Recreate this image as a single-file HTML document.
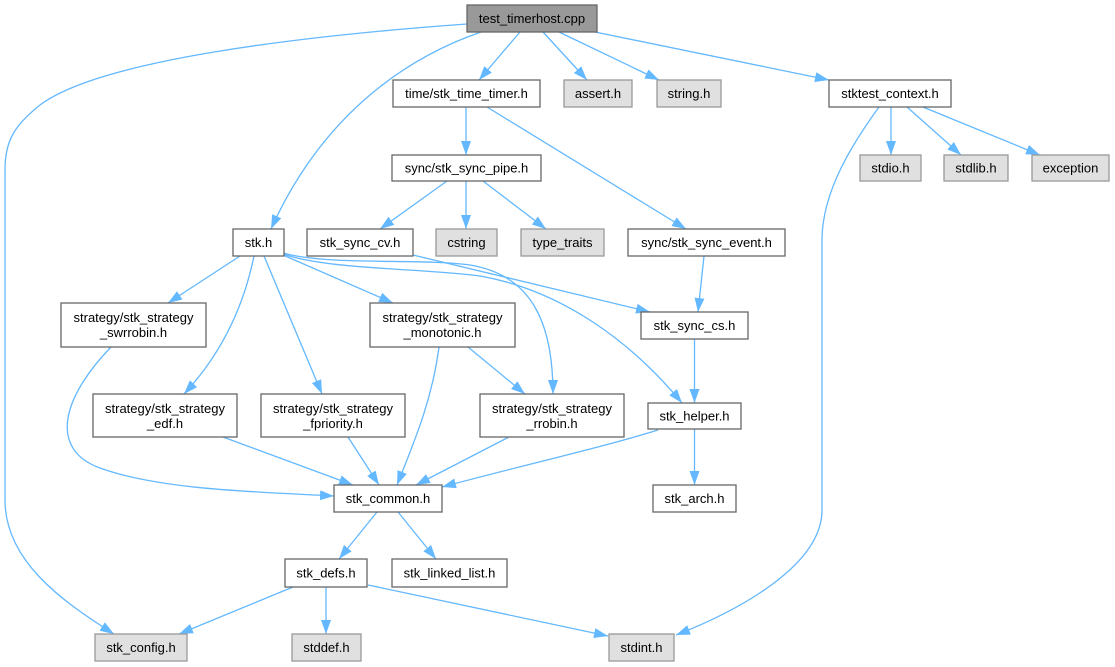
<!DOCTYPE html>
<html><head><meta charset="utf-8"><style>
html,body{margin:0;padding:0;background:#fff;}
svg{display:block;}
text{font-family:"Liberation Sans",Arial,sans-serif;font-size:13px;fill:#000;text-anchor:middle;}
.e{fill:none;stroke:#63b8ff;stroke-width:1.3;}
.w{fill:#fff;stroke:#666;stroke-width:1.3;}
.g{fill:#e0e0e0;stroke:#999;stroke-width:1.3;}
.r{fill:#999;stroke:#666;stroke-width:1.3;}
</style></head><body>
<svg width="1115" height="667" viewBox="0 0 1115 667" xmlns="http://www.w3.org/2000/svg">
<defs>
<marker id="a" markerWidth="14" markerHeight="10" refX="14" refY="5" orient="auto" markerUnits="userSpaceOnUse">
<path d="M0,0 L14,5 L0,10 z" fill="#63b8ff"/>
</marker>
</defs>
<g marker-end="url(#a)">
<!-- root edges -->
<path class="e" marker-end="url(#a)" d="M467,24 C300,36 100,60 40,105 C15,125 5,140 5,170 L5,500 C5,560 60,600 114,634"/>
<path class="e" marker-end="url(#a)" d="M481,32 C400,60 320,120 271,229"/>
<path class="e" marker-end="url(#a)" d="M520,32 L479,80"/>
<path class="e" marker-end="url(#a)" d="M543,32 L587,80"/>
<path class="e" marker-end="url(#a)" d="M559,32 L659,80"/>
<path class="e" marker-end="url(#a)" d="M595,32 L829,80"/>
<!-- time_timer -->
<path class="e" marker-end="url(#a)" d="M466,107 L466,155"/>
<path class="e" marker-end="url(#a)" d="M487,107 L686,229"/>
<!-- sync_pipe -->
<path class="e" marker-end="url(#a)" d="M447,181 L380,229"/>
<path class="e" marker-end="url(#a)" d="M466,181 L466,229"/>
<path class="e" marker-end="url(#a)" d="M483,181 L546,229"/>
<!-- stktest_context -->
<path class="e" marker-end="url(#a)" d="M891,107 L891,155"/>
<path class="e" marker-end="url(#a)" d="M907,107 L961,155"/>
<path class="e" marker-end="url(#a)" d="M923,107 L1040,155"/>
<path class="e" marker-end="url(#a)" d="M879,107 C855,140 822,190 822,240 L822,510 C822,565 740,610 676,635"/>
<!-- sync_event, sync_cv -->
<path class="e" marker-end="url(#a)" d="M704,256 L698,312"/>
<path class="e" marker-end="url(#a)" d="M413,255 L650,312"/>
<!-- stk.h -->
<path class="e" marker-end="url(#a)" d="M240,256 L168,303"/>
<path class="e" marker-end="url(#a)" d="M254,256 C245,300 225,350 184,394"/>
<path class="e" marker-end="url(#a)" d="M264,256 L322,394"/>
<path class="e" marker-end="url(#a)" d="M283,255 L393,303"/>
<path class="e" marker-end="url(#a)" d="M283,253 C330,266 420,258 470,265 C530,275 553,320 553,394"/>
<path class="e" marker-end="url(#a)" d="M283,254 C330,270 420,268 480,276 C560,290 630,340 682,403"/>
<!-- strategies -->
<path class="e" marker-end="url(#a)" d="M439,347 C432,400 415,440 397,485"/>
<path class="e" marker-end="url(#a)" d="M468,347 L525,394"/>
<path class="e" marker-end="url(#a)" d="M111,347 C60,400 50,450 100,468 C160,490 260,492 334,496"/>
<path class="e" marker-end="url(#a)" d="M223,437 L353,485"/>
<path class="e" marker-end="url(#a)" d="M348,437 L379,485"/>
<path class="e" marker-end="url(#a)" d="M509,437 L416,485"/>
<!-- helper / cs -->
<path class="e" marker-end="url(#a)" d="M694.5,339 L694.5,403"/>
<path class="e" marker-end="url(#a)" d="M694.5,429 L694.5,485"/>
<path class="e" marker-end="url(#a)" d="M658,430 C600,448 520,466 442,487"/>
<!-- common / defs -->
<path class="e" marker-end="url(#a)" d="M377,512 L339,559"/>
<path class="e" marker-end="url(#a)" d="M398,512 L436,559"/>
<path class="e" marker-end="url(#a)" d="M293,587 L179,634"/>
<path class="e" marker-end="url(#a)" d="M326,587 L326,634"/>
<path class="e" marker-end="url(#a)" d="M368,585 L608,636"/>
</g>

<!-- nodes -->
<rect class="r" x="467" y="5" width="130" height="27"/><text x="532" y="23">test_timerhost.cpp</text>
<rect class="w" x="393" y="80" width="147" height="27"/><text x="466.5" y="98">time/stk_time_timer.h</text>
<rect class="g" x="564" y="80" width="68" height="27"/><text x="598" y="98">assert.h</text>
<rect class="g" x="657" y="80" width="64" height="27"/><text x="689" y="98">string.h</text>
<rect class="w" x="829" y="80" width="122" height="27"/><text x="890" y="98">stktest_context.h</text>
<rect class="w" x="392" y="155" width="149" height="26"/><text x="466.5" y="172.5">sync/stk_sync_pipe.h</text>
<rect class="g" x="860" y="155" width="61" height="26"/><text x="890.5" y="172.5">stdio.h</text>
<rect class="g" x="944" y="155" width="64" height="26"/><text x="976" y="172.5">stdlib.h</text>
<rect class="g" x="1032" y="155" width="77" height="26"/><text x="1070.5" y="172.5">exception</text>
<rect class="w" x="233" y="229" width="51" height="27"/><text x="258.5" y="247">stk.h</text>
<rect class="w" x="307" y="229" width="106" height="27"/><text x="360" y="247">stk_sync_cv.h</text>
<rect class="g" x="436" y="229" width="61" height="27"/><text x="466.5" y="247">cstring</text>
<rect class="g" x="521" y="229" width="83" height="27"/><text x="562.5" y="247">type_traits</text>
<rect class="w" x="628" y="229" width="157" height="27"/><text x="706.5" y="247">sync/stk_sync_event.h</text>
<rect class="w" x="61" y="303" width="145" height="44"/><text x="133.5" y="322">strategy/stk_strategy</text><text x="133.5" y="337">_swrrobin.h</text>
<rect class="w" x="370" y="303" width="145" height="44"/><text x="442.5" y="322">strategy/stk_strategy</text><text x="442.5" y="337">_monotonic.h</text>
<rect class="w" x="641" y="312" width="107" height="27"/><text x="694.5" y="330">stk_sync_cs.h</text>
<rect class="w" x="93" y="394" width="144" height="43"/><text x="165" y="413">strategy/stk_strategy</text><text x="165" y="428">_edf.h</text>
<rect class="w" x="261" y="394" width="144" height="43"/><text x="333" y="413">strategy/stk_strategy</text><text x="333" y="428">_fpriority.h</text>
<rect class="w" x="480" y="394" width="144" height="43"/><text x="552" y="413">strategy/stk_strategy</text><text x="552" y="428">_rrobin.h</text>
<rect class="w" x="648" y="403" width="93" height="26"/><text x="694.5" y="420.5">stk_helper.h</text>
<rect class="w" x="334" y="485" width="108" height="27"/><text x="388" y="503">stk_common.h</text>
<rect class="w" x="653" y="485" width="83" height="27"/><text x="694.5" y="503">stk_arch.h</text>
<rect class="w" x="285" y="559" width="82" height="28"/><text x="326" y="577.5">stk_defs.h</text>
<rect class="w" x="392" y="559" width="115" height="28"/><text x="449.5" y="577.5">stk_linked_list.h</text>
<rect class="g" x="95" y="634" width="92" height="27"/><text x="141" y="652">stk_config.h</text>
<rect class="g" x="292" y="634" width="69" height="27"/><text x="326.5" y="652">stddef.h</text>
<rect class="g" x="609" y="634" width="65" height="27"/><text x="641.5" y="652">stdint.h</text>
</svg>
</body></html>
